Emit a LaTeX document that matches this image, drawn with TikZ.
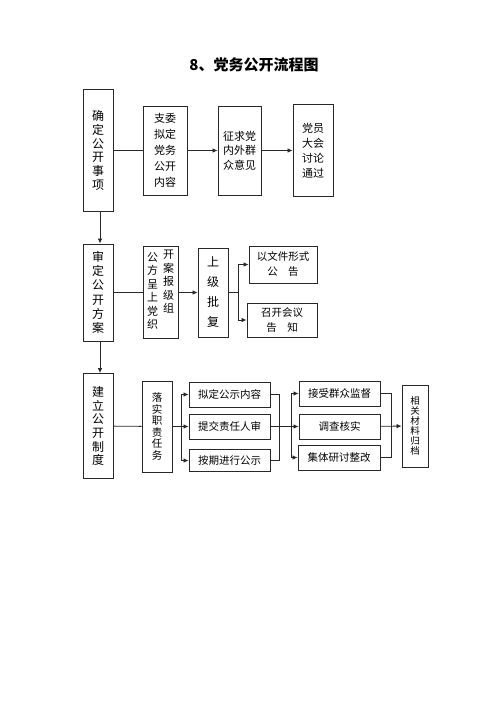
\documentclass[tikz,border=0pt]{standalone}
\usepackage{fontspec}
\setmainfont{Noto Sans CJK SC}
\usetikzlibrary{arrows.meta}
\definecolor{ink}{RGB}{40, 40, 40}
\tikzstyle{stem}=[rectangle,draw=ink,line width=0.9pt,inner sep=0pt,
  align=center,font=\fontsize{12}{13.7}\selectfont]
\tikzstyle{col}=[rectangle,draw=ink,line width=0.9pt,inner sep=0pt,
  align=center,font=\fontsize{11}{15}\selectfont]
\tikzstyle{row}=[rectangle,draw=ink,line width=0.9pt,inner sep=0pt,
  align=center,font=\fontsize{10.5}{15}\selectfont]
\tikzstyle{title}=[font=\fontsize{15}{18}\selectfont\bfseries]
\tikzstyle{none}=[]
\tikzstyle{wire}=[draw=ink,line width=0.8pt]
\tikzstyle{arr}=[draw=ink,line width=0.8pt,-{Latex[length=5pt,width=4.5pt]}]
\newcommand{\up}[1]{\raisebox{2.5pt}[0pt][0pt]{#1}}

\begin{document}
\begin{tikzpicture}[x=1pt,y=-1pt]
            \fill [white] (0,0) rectangle (500,706);
            \useasboundingbox (0,0) rectangle (500,706);
            \node [style=title] (0) at (254, 65) {8、党务公开流程图};
            \node [style=stem, minimum width=30pt, minimum height=122pt] (1) at (98, 150.5) {确\\定\\公\\开\\事\\项};
            \node [style=col, minimum width=44pt, minimum height=89pt, font=\fontsize{11}{16}\selectfont] (2) at (165, 150.5) {支委\\拟定\\党务\\公开\\内容};
            \node [style=col, minimum width=43pt, minimum height=89pt, font=\fontsize{11}{14.5}\selectfont] (3) at (239.5, 150.5) {征求党\\内外群\\众意见};
            \node [style=col, minimum width=40pt, minimum height=92pt] (4) at (313, 150.5) {党员\\大会\\讨论\\通过};
            \node [style=stem, minimum width=30pt, minimum height=97pt, font=\fontsize{12}{14.3}\selectfont] (5) at (98, 292.5) {审\\定\\公\\开\\方\\案};
            \node [style=col, minimum width=35pt, minimum height=92pt, font=\fontsize{11}{13.5}\selectfont] (6) at (160.5, 292.5) {\begin{tabular}{@{}c@{\hspace{5pt}}c@{}}公&\up{开}\\方&\up{案}\\呈&\up{报}\\上&\up{级}\\党&\up{组}\\织&\end{tabular}};
            \node [style=stem, minimum width=30pt, minimum height=89pt, font=\fontsize{12}{20}\selectfont] (7) at (213, 292.5) {上\\级\\批\\复};
            \node [style=row, minimum width=68pt, minimum height=37pt] (8) at (283, 264.5) {以文件形式\\公\quad 告};
            \node [style=row, minimum width=70pt, minimum height=34pt] (9) at (282, 320) {召开会议\\告\quad 知};
            \node [style=stem, minimum width=30pt, minimum height=105pt] (10) at (98, 426) {建\\立\\公\\开\\制\\度};
            \node [style=col, minimum width=30pt, minimum height=91pt, font=\fontsize{10.5}{11.5}\selectfont] (11) at (157, 426.5) {落\\实\\职\\责\\任\\务};
            \node [style=row, minimum width=81pt, minimum height=25pt] (12) at (229.5, 394.5) {拟定公示内容};
            \node [style=row, minimum width=81pt, minimum height=25pt] (13) at (229.5, 426.5) {提交责任人审};
            \node [style=row, minimum width=81pt, minimum height=22pt] (14) at (229.5, 460.5) {按期进行公示};
            \node [style=row, minimum width=81pt, minimum height=25pt] (15) at (339.5, 393.5) {接受群众监督};
            \node [style=row, minimum width=81pt, minimum height=25pt] (16) at (339.5, 426.5) {调查核实};
            \node [style=row, minimum width=82pt, minimum height=25pt] (17) at (339, 457.5) {集体研讨整改};
            \node [style=col, minimum width=26pt, minimum height=82pt, font=\fontsize{9.5}{10}\selectfont] (18) at (415, 426) {相\\关\\材\\料\\归\\档};
            \node [style=none] (19) at (238, 292.5) {};
            \node [style=none] (20) at (181, 426.5) {};
            \node [style=none] (21) at (279, 460.5) {};
            \node [style=none] (22) at (291, 426.5) {};
            \node [style=none] (23) at (391, 457.5) {};
            \draw [style=wire] (1) to (2);
            \draw [style=arr] (2) to (3);
            \draw [style=arr] (3) to (4);
            \draw [style=arr] ([xshift=2pt]1.south) to ([xshift=2pt]5.north);
            \draw [style=wire] (5) to (6);
            \draw [style=arr] (6) to (7);
            \draw [style=wire] (7) to (19.center);
            \draw [style=arr] (19.center) |- (8);
            \draw [style=arr] (19.center) |- (9);
            \draw [style=arr] ([xshift=2pt]5.south) to ([xshift=2pt]10.north);
            \draw [style=wire] (10) to (11);
            \draw [style=wire] (11) to (20.center);
            \draw [style=arr] (20.center) |- (12);
            \draw [style=arr] (20.center) to (13);
            \draw [style=arr] (20.center) |- (14);
            \draw [style=wire] (12) -| (21.center);
            \draw [style=wire] (14) to (21.center);
            \draw [style=arr] (13) to (16);
            \draw [style=arr] (22.center) |- (15);
            \draw [style=arr] (22.center) |- (17);
            \draw [style=wire] (15) -| (23.center);
            \draw [style=wire] (17) to (23.center);
            \draw [style=arr] (16) to (18);
    \end{tikzpicture}
\end{document}
